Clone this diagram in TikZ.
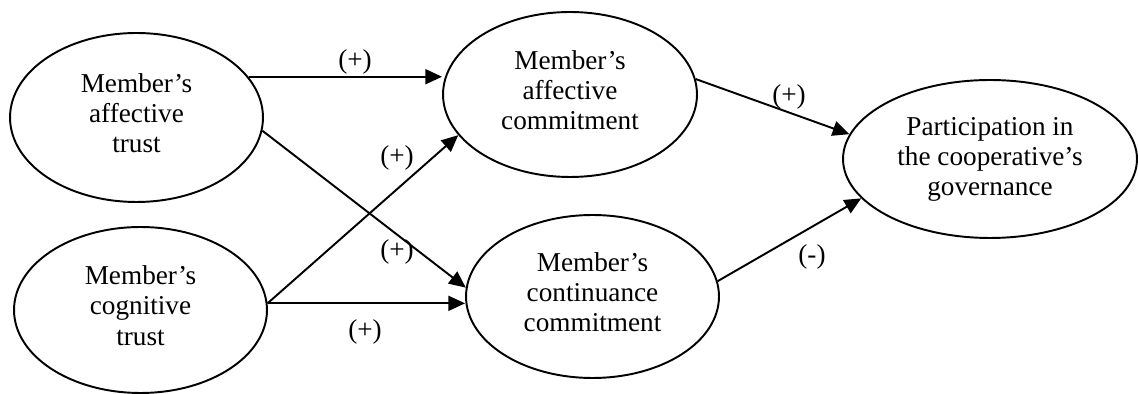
\documentclass[tikz,border=0pt]{standalone}
\usepackage{fontspec}
\setmainfont{Liberation Serif}
\usetikzlibrary{shapes.geometric,arrows.meta}
\newcommand{\lift}{\\[-12pt]\mbox{}}
\begin{document}
\begin{tikzpicture}[x=0.02cm,y=-0.02cm,
  ell/.style={draw,ellipse,line width=1.1pt,inner sep=0pt,align=center,
    font=\fontsize{15.5}{17.1}\selectfont},
  arr/.style={line width=1.1pt,-{Triangle[length=9.5pt,width=8.5pt]}},
  lbl/.style={font=\fontsize{15.5}{17.1}\selectfont,inner sep=0pt}]
\useasboundingbox (0,0) rectangle (1138,394);
\node[ell,minimum width=5.06cm,minimum height=3.38cm] (e1) at (136.5,117.5) {Member’s\\affective\\trust\lift};
\node[ell,minimum width=5.06cm,minimum height=3.32cm] (e2) at (140.5,310) {Member’s\\cognitive\\trust\lift};
\node[ell,minimum width=5.08cm,minimum height=3.30cm] (e3) at (570,94.5) {Member’s\\affective\\commitment\lift};
\node[ell,minimum width=5.06cm,minimum height=3.26cm] (e4) at (592.5,296.5) {Member’s\\continuance\\commitment\lift};
\node[ell,minimum width=5.88cm,minimum height=3.16cm] (e5) at (990,159) {Participation in\\the cooperative’s\\governance};
\draw[arr] (e1.20) -- (e1.20 -| e3.west);
\draw[arr] (e1.354) -- (e4.176);
\draw[arr] (e2.3) -- (e3.200);
\draw[arr] (e2.3) -- (e2.3 -| e4.west);
\draw[arr] (e3.7) -- (e5.170);
\draw[arr] (e4.7) -- (e5.197);
\node[lbl] (l1) at (355,62) {(+)};
\node[lbl] (l2) at (397,158) {(+)};
\node[lbl] (l3) at (397,252) {(+)};
\node[lbl] (l4) at (365,332) {(+)};
\node[lbl] (l5) at (789,97) {(+)};
\node[lbl] (l6) at (812,257) {(-)};
\end{tikzpicture}
\end{document}
